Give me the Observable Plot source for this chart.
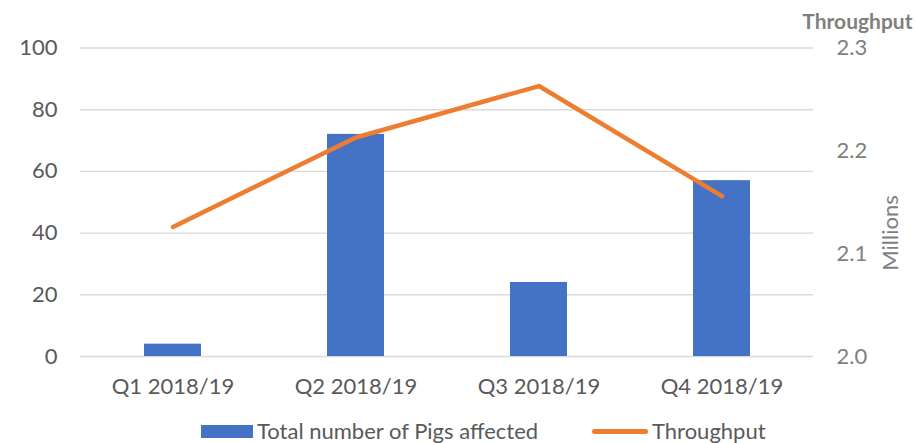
<!DOCTYPE html>
<html>
<head>
<meta charset="utf-8">
<script src="https://cdn.jsdelivr.net/npm/d3@7"></script>
<script src="https://cdn.jsdelivr.net/npm/@observablehq/plot@0.6"></script>
<style>
  html, body { margin: 0; padding: 0; background: #fff; }
  #wrap { position: relative; width: 916px; height: 443px; font-family: Lato, "Open Sans", sans-serif; }
  #legend { position: absolute; left: 0; top: 419px; width: 916px; height: 24px; font-size: 22px; color: #595959; }
  .sw-bar { position: absolute; left: 201px; top: 6px; width: 52px; height: 13px; background: #4472C4; }
  .sw-line { position: absolute; left: 592px; top: 10px; width: 56px; height: 4.5px; border-radius: 3px; background: #ED7D31; }
  .lt { position: absolute; top: 0; height: 24px; line-height: 24px; white-space: nowrap; }
</style>
</head>
<body>
<div id="wrap">
  <div id="chart"></div>
  <div id="legend">
    <div class="sw-bar"></div><div class="lt" style="left:257px">Total number of Pigs affected</div>
    <div class="sw-line"></div><div class="lt" style="left:652px">Throughput</div>
  </div>
</div>
<script>
const quarters = ["Q1 2018/19", "Q2 2018/19", "Q3 2018/19", "Q4 2018/19"];
const pigsAffected = [4, 72, 24, 57];
const throughputMillions = [2.126, 2.213, 2.263, 2.156];
const leftTicks = [0, 20, 40, 60, 80, 100];
const rightTicks = [2.0, 2.1, 2.2, 2.3];

const rightMin = 2.0, rightMax = 2.3;
const toLeft = v => (v - rightMin) / (rightMax - rightMin) * 100;
const fromLeft = d => rightMin + d / 100 * (rightMax - rightMin);

const data = quarters.map((q, i) => ({ q, pigs: pigsAffected[i], tp: throughputMillions[i], tpLeft: toLeft(throughputMillions[i]) }));

const chart = Plot.plot({
  width: 916,
  height: 412,
  marginLeft: 80,
  marginRight: 103,
  marginTop: 47.5,
  marginBottom: 56,
  style: { fontFamily: "Lato, 'Open Sans', sans-serif", background: "#fff" },
  x: { domain: quarters, paddingInner: 0.69, paddingOuter: 0.345 },
  y: { domain: [0, 100] },
  marks: [
    Plot.ruleY(leftTicks, { stroke: "#D9D9D9", strokeWidth: 1.4 }),
    Plot.barY(data, { x: "q", y: "pigs", fill: "#4472C4" }),
    Plot.line(data, { x: "q", y: "tpLeft", stroke: "#ED7D31", strokeWidth: 4.5, strokeLinecap: "round", strokeLinejoin: "round" }),
    Plot.axisY({ anchor: "left", ticks: leftTicks, tickSize: 0, tickPadding: 23, fontSize: 22, fill: "#595959", label: null }),
    Plot.axisY({ anchor: "right", ticks: rightTicks.map(toLeft), tickFormat: d => fromLeft(d).toFixed(1), tickSize: 0, tickPadding: 23, fontSize: 22, fill: "#7F7F7F", label: null }),
    Plot.axisX({ tickSize: 0, tickPadding: 22, fontSize: 22, fill: "#595959", label: null }),
    Plot.text(["Throughput"], { frameAnchor: "top-right", dx: 99, dy: -34, textAnchor: "end", fontSize: 21, fontWeight: "bold", fill: "#7F7F7F" }),
    Plot.text(["Millions"], { frameAnchor: "right", dx: 77, dy: -7, rotate: -90, fontSize: 22, fill: "#7F7F7F" })
  ]
});
document.getElementById("chart").appendChild(chart);
</script>
</body>
</html>
